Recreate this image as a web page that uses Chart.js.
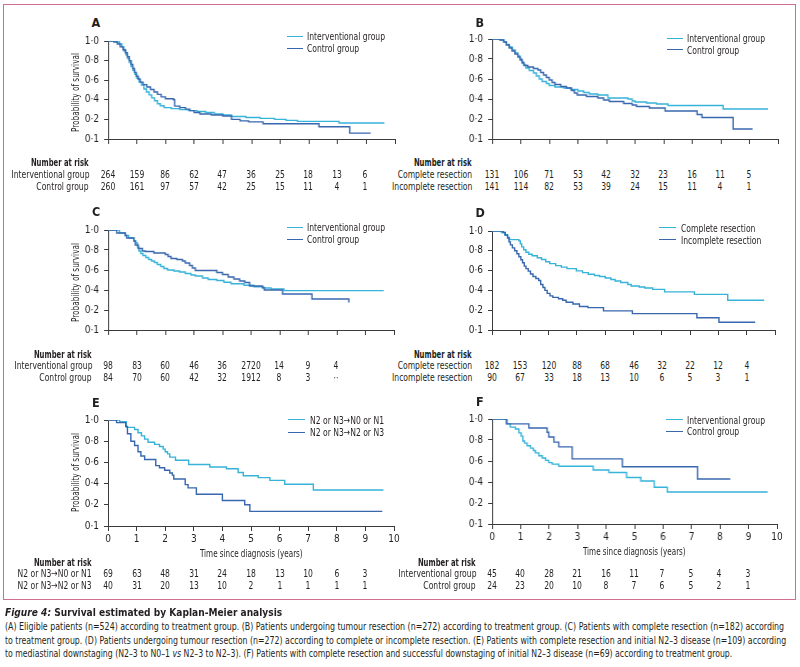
<!DOCTYPE html>
<html><head><meta charset="utf-8">
<script src="https://cdn.jsdelivr.net/npm/chart.js@4.4.1/dist/chart.umd.min.js"></script>
<style>
html,body{margin:0;padding:0;background:#fff;}
#wrap{position:relative;width:800px;height:667px;overflow:hidden;background:#fff;color:#231f20;}
#frame{position:absolute;left:3px;top:4px;width:791px;height:594px;border:1.3px solid #cf6f8b;}
.t{position:absolute;white-space:nowrap;}
canvas{position:absolute;}
</style></head><body>
<div id="wrap"><div id="frame"></div></div>
<script>
// ---------------- DATA ----------------
const yearTicks = [0,1,2,3,4,5,6,7,8,9,10];
const riskYears = [0,1,2,3,4,5,6,7,8,9];

// A: eligible patients
const aInterventional = [[0,1],[0.3,0.99],[0.4,0.97],[0.48,0.94],[0.55,0.90],[0.62,0.86],[0.68,0.82],[0.74,0.78],[0.8,0.74],[0.86,0.70],[0.93,0.66],[1.0,0.62],[1.08,0.58],[1.16,0.55],[1.25,0.51],[1.34,0.48],[1.43,0.45],[1.52,0.42],[1.62,0.39],[1.72,0.36],[1.82,0.34],[1.95,0.32],[2.2,0.31],[2.5,0.30],[2.8,0.29],[3.1,0.28],[3.4,0.27],[3.7,0.255],[4.0,0.245],[4.3,0.23],[4.8,0.22],[5.3,0.21],[5.8,0.20],[6.2,0.19],[6.6,0.18],[8.05,0.163],[9.63,0.163]];
const aControl = [[0,1],[0.2,0.99],[0.32,0.97],[0.42,0.94],[0.52,0.91],[0.6,0.88],[0.67,0.84],[0.74,0.80],[0.8,0.76],[0.86,0.72],[0.92,0.68],[0.98,0.64],[1.05,0.61],[1.12,0.58],[1.22,0.555],[1.35,0.53],[1.48,0.505],[1.6,0.48],[1.72,0.455],[1.85,0.43],[2.0,0.41],[2.28,0.40],[2.32,0.335],[2.5,0.32],[2.7,0.305],[2.85,0.29],[3.0,0.27],[3.2,0.255],[3.6,0.245],[4.0,0.235],[4.3,0.20],[4.6,0.185],[4.9,0.175],[5.4,0.155],[7.35,0.125],[8.42,0.06],[9.15,0.06]];
const aRiskInterventional = ['264','159','86','62','47','36','25','18','13','6'];
const aRiskControl = ['260','161','97','57','42','25','15','11','4','1'];

// B: tumour resection by treatment group
const bInterventional = [[0,1],[0.33,0.99],[0.42,0.97],[0.5,0.945],[0.6,0.92],[0.7,0.89],[0.8,0.86],[0.9,0.83],[0.97,0.80],[1.04,0.77],[1.1,0.74],[1.18,0.71],[1.3,0.685],[1.45,0.66],[1.55,0.63],[1.65,0.60],[1.75,0.575],[1.9,0.555],[2.0,0.535],[2.2,0.52],[2.5,0.51],[2.75,0.495],[3.0,0.48],[3.2,0.465],[3.4,0.45],[3.7,0.44],[4.05,0.41],[4.75,0.40],[4.9,0.38],[5.0,0.37],[5.4,0.36],[5.75,0.35],[6.15,0.335],[8.08,0.30],[9.65,0.30]];
const bControl = [[0,1],[0.27,0.99],[0.4,0.97],[0.5,0.94],[0.6,0.91],[0.7,0.88],[0.8,0.85],[0.9,0.82],[0.98,0.79],[1.05,0.76],[1.12,0.735],[1.25,0.72],[1.45,0.705],[1.6,0.69],[1.7,0.665],[1.8,0.64],[1.9,0.615],[2.0,0.59],[2.1,0.565],[2.2,0.545],[2.4,0.525],[2.6,0.51],[2.78,0.485],[2.88,0.46],[2.98,0.44],[3.3,0.425],[3.7,0.41],[3.9,0.39],[4.1,0.375],[4.6,0.355],[4.9,0.34],[5.05,0.325],[5.5,0.31],[6.05,0.28],[7.17,0.245],[7.34,0.215],[8.43,0.10],[9.11,0.10]];
const bRiskComplete = ['131','106','71','53','42','32','23','16','11','5'];
const bRiskIncomplete = ['141','114','82','53','39','24','15','11','4','1'];

// C: complete resection by treatment group
const cInterventional = [[0,1],[0.4,0.97],[0.6,0.945],[0.72,0.92],[0.9,0.89],[0.97,0.87],[1.03,0.83],[1.08,0.79],[1.14,0.765],[1.22,0.745],[1.32,0.725],[1.42,0.705],[1.52,0.69],[1.62,0.675],[1.72,0.655],[1.84,0.635],[1.95,0.615],[2.08,0.60],[2.3,0.59],[2.5,0.58],[2.7,0.565],[2.9,0.55],[3.05,0.54],[3.3,0.52],[3.5,0.505],[3.8,0.495],[4.05,0.478],[4.3,0.463],[4.75,0.447],[5.1,0.432],[5.4,0.42],[5.7,0.41],[6.15,0.394],[9.64,0.394]];
const cControl = [[0,1],[0.3,0.97],[0.6,0.945],[0.65,0.92],[0.9,0.89],[0.95,0.85],[1.05,0.815],[1.2,0.79],[1.3,0.785],[1.6,0.77],[2.0,0.755],[2.1,0.735],[2.2,0.715],[2.4,0.705],[2.6,0.69],[2.7,0.67],[2.85,0.645],[2.95,0.62],[3.05,0.595],[3.8,0.575],[4.0,0.555],[4.2,0.53],[4.4,0.51],[4.6,0.49],[4.78,0.475],[4.95,0.44],[5.4,0.425],[5.46,0.40],[6.1,0.36],[7.13,0.31],[8.42,0.274]];
const cRiskInterventional = ['98','83','60','46','36','2720','14','9','4',''];
const cRiskControl = ['84','70','60','42','32','1912','8','3','··',''];

// D: complete vs incomplete resection
const dComplete = [[0,1],[0.33,0.985],[0.45,0.96],[0.55,0.935],[0.62,0.913],[0.95,0.90],[1.0,0.87],[1.05,0.84],[1.12,0.81],[1.2,0.785],[1.3,0.765],[1.42,0.75],[1.6,0.73],[1.75,0.712],[1.9,0.69],[2.04,0.67],[2.25,0.65],[2.45,0.635],[2.65,0.62],[2.98,0.597],[3.2,0.58],[3.4,0.563],[3.62,0.55],[3.8,0.54],[4.0,0.525],[4.2,0.51],[4.35,0.495],[4.55,0.48],[4.8,0.46],[4.92,0.445],[5.2,0.435],[5.4,0.425],[5.68,0.41],[6.1,0.385],[7.15,0.36],[8.33,0.30],[9.62,0.30]];
const dIncomplete = [[0,1],[0.4,0.985],[0.47,0.96],[0.55,0.93],[0.6,0.89],[0.65,0.86],[0.72,0.83],[0.8,0.80],[0.88,0.77],[0.95,0.74],[1.02,0.71],[1.08,0.68],[1.14,0.645],[1.2,0.62],[1.28,0.595],[1.36,0.565],[1.45,0.54],[1.55,0.52],[1.65,0.50],[1.72,0.46],[1.8,0.43],[1.87,0.40],[1.95,0.37],[2.05,0.345],[2.15,0.33],[2.35,0.315],[2.5,0.30],[2.62,0.28],[2.86,0.263],[3.09,0.238],[3.39,0.226],[3.94,0.193],[4.96,0.165],[7.24,0.124],[8.02,0.078],[9.3,0.078]];
const dRiskComplete = ['182','153','120','88','68','46','32','22','12','4'];
const dRiskIncomplete = ['90','67','33','18','13','10','6','5','3','1'];

// E: mediastinal downstaging
const eDownstaged = [[0,1],[0.41,0.985],[0.64,0.93],[0.93,0.91],[1.05,0.88],[1.17,0.85],[1.28,0.82],[1.4,0.79],[1.63,0.77],[1.8,0.75],[1.93,0.725],[2.0,0.70],[2.08,0.68],[2.16,0.65],[2.36,0.62],[2.82,0.58],[3.56,0.557],[4.14,0.54],[4.55,0.505],[4.73,0.474],[5.25,0.456],[5.66,0.43],[6.18,0.394],[7.18,0.34],[9.63,0.34]];
const eNotDownstaged = [[0,1],[0.3,0.975],[0.62,0.94],[0.68,0.87],[0.8,0.80],[0.93,0.76],[1.05,0.70],[1.15,0.66],[1.28,0.627],[1.67,0.57],[1.8,0.55],[1.98,0.526],[2.16,0.50],[2.25,0.48],[2.3,0.443],[2.7,0.39],[2.8,0.36],[3.09,0.30],[4.0,0.24],[4.78,0.20],[4.96,0.138],[9.59,0.138]];
const eRiskDownstaged = ['69','63','48','31','24','18','13','10','6','3'];
const eRiskNotDownstaged = ['40','31','20','13','10','2','1','1','1','1'];

// F: successful downstaging by treatment group
const fInterventional = [[0,1],[0.53,0.954],[0.64,0.923],[0.82,0.905],[0.94,0.868],[1.02,0.837],[1.08,0.79],[1.14,0.77],[1.23,0.745],[1.35,0.723],[1.45,0.70],[1.52,0.677],[1.64,0.65],[1.76,0.628],[1.88,0.606],[1.99,0.585],[2.11,0.57],[2.34,0.55],[3.55,0.514],[4.1,0.49],[4.72,0.443],[5.22,0.41],[5.69,0.35],[6.15,0.305],[9.67,0.305]];
const fControl = [[0,1],[0.5,0.954],[1.29,0.914],[1.93,0.874],[1.99,0.828],[2.17,0.78],[2.34,0.735],[2.81,0.62],[4.57,0.545],[7.21,0.428],[8.36,0.428]];
const fRiskInterventional = ['45','40','28','21','16','11','7','5','4','3'];
const fRiskControl = ['24','23','20','10','8','7','6','5','2','1'];

const labInterventional = 'Interventional group';
const labControl = 'Control group';
const labComplete = 'Complete resection';
const labIncomplete = 'Incomplete resection';
const labDown = 'N2 or N3\u2192N0 or N1';
const labNotDown = 'N2 or N3\u2192N2 or N3';

// ---------------- STYLE ----------------
const CYAN = '#37b3d9';
const DARK = '#3867ae';
const INK = '#231f20';
const AXIS = '#3b3b3b';

function fontAvailable(f){
  const c=document.createElement('canvas').getContext('2d');
  const s='Interventional group 0123456789';
  c.font='20px monospace'; const a=c.measureText(s).width;
  c.font='20px "'+f+'", monospace'; const b=c.measureText(s).width;
  return Math.abs(a-b)>0.5;
}
const FAMILY = ['Liberation Sans Narrow','DejaVu Sans Condensed','Roboto Condensed','Liberation Sans','Roboto'].find(fontAvailable) || 'sans-serif';
const FONT = '"'+FAMILY+'", "Liberation Sans", Arial, sans-serif';
const mctx = document.createElement('canvas').getContext('2d');
function measure(s, font){ mctx.font = font; return mctx.measureText(s).width; }
const FS = 10.5;
const KX = Math.max(0.6, Math.min(1.2, 78 / measure('Interventional group', FS+'px '+FONT)));

const wrap = document.getElementById('wrap');

function txt(html, x, y, o){
  o = o || {};
  const d = document.createElement('div');
  d.className='t';
  d.innerHTML = html;
  const fs = o.fs || FS;
  const lh = Math.round(fs*1.2);
  d.style.fontFamily = FONT;
  d.style.fontSize = fs+'px';
  d.style.fontWeight = o.weight || 'normal';
  if(o.italic) d.style.fontStyle='italic';
  d.style.lineHeight = lh+'px';
  d.style.color = o.color || INK;
  d.style.top = (y - lh/2)+'px';
  d.style.left = '0px';
  wrap.appendChild(d);
  const w = d.offsetWidth;
  let k = o.k != null ? o.k : KX;
  if(o.fitW) k = o.fitW / w;
  const al = o.align || 'left';
  let left = x, origin='0% 50%';
  if(al==='right'){ left = x - w; origin='100% 50%'; }
  else if(al==='center'){ left = x - w/2; origin='50% 50%'; }
  d.style.left = left+'px';
  d.style.transformOrigin = origin;
  d.style.transform = (o.rotate ? 'rotate('+o.rotate+'deg) ' : '') + 'scaleX('+k+')';
  return d;
}

function legendRow(lx, tx, y, color, label){
  const l = document.createElement('div');
  l.style.position='absolute'; l.style.left=Math.round(lx)+'px'; l.style.top=Math.round(y-0.7)+'px';
  l.style.width=Math.round(tx-lx-4.3)+'px'; l.style.height='1.4px'; l.style.background=color;
  wrap.appendChild(l);
  txt(label, tx, y, {align:'left'});
}

const tickFont = {family: FONT, size: 10};

function buildPanel(p){
  const Wy = 40, padTop = 8, padRight = 10;
  const xH = p.xLabels ? 22 : 6;
  const L = p.axisX - Wy, T = p.top - padTop;
  const W = Wy + (p.right - p.axisX) + padRight;
  const H = padTop + (p.bottom - p.top) + xH;
  const cv = document.createElement('canvas');
  cv.width = W; cv.height = H;
  cv.style.left = L+'px'; cv.style.top = T+'px';
  cv.style.width = W+'px'; cv.style.height = H+'px';
  wrap.appendChild(cv);
  const datasets = p.series.map(s => ({
    label: s.label,
    data: s.data.map(([x,y]) => ({x, y})),
    borderColor: s.color, backgroundColor: s.color,
    borderWidth: 1.4, stepped: 'before', pointRadius: 0, fill: false, tension: 0
  }));
  const chart = new Chart(cv.getContext('2d'), {
    type: 'line',
    data: {datasets},
    options: {
      responsive: false, animation: false, devicePixelRatio: 1,
      layout: {padding: {top: padTop, right: padRight, left: 0, bottom: 0}},
      plugins: {legend: {display: false}, tooltip: {enabled: false}, title:{display:false}},
      scales: {
        x: {
          type: 'linear', min: 0, max: 10,
          afterFit: s => { s.height = xH; },
          afterBuildTicks: s => { s.ticks = yearTicks.map(v => ({value: v})); },
          ticks: {display: !!p.xLabels, font: tickFont, color: INK, padding: 2, maxRotation: 0, autoSkip: false},
          grid: {drawOnChartArea: false, drawTicks: true, tickLength: 5, color: AXIS, lineWidth: 1},
          border: {display: true, color: AXIS, width: 1}
        },
        y: {
          min: 0, max: 1,
          afterFit: s => { s.width = Wy; },
          ticks: {stepSize: 0.2, font: tickFont, color: INK, padding: 5,
            callback: v => { const r = Math.round(v*10)/10; return r === 0 ? '0\u00b71' : r.toFixed(1).replace('.', '\u00b7'); }},
          grid: {drawOnChartArea: false, drawTicks: true, tickLength: 4, color: AXIS, lineWidth: 1},
          border: {display: true, color: AXIS, width: 1}
        }
      }
    }
  });
  const xs = chart.scales.x;
  txt(p.letter, p.letterX, p.letterY, {align:'center', fs: 12.5, weight: '600', k: 1});
  if(p.yTitle){
    txt('Probability of survival', 75, (p.top+p.bottom)/2 + 1.4, {align:'center', fs: 10.5, rotate: -90, fitW: 79});
  }
  if(p.xLabels){
    txt('Time since diagnosis (years)', (p.axisX+p.right)/2, p.bottom + 27.6, {align:'center', fs: 10.5, fitW: 103});
  }
  legendRow(p.leg.lx, p.leg.tx, p.leg.y1, p.series[p.leg.first].color, p.series[p.leg.first].label);
  legendRow(p.leg.lx, p.leg.tx, p.leg.y2, p.series[1-p.leg.first].color, p.series[1-p.leg.first].label);
  txt('Number at risk', p.risk.rx, p.risk.y0, {align:'right', weight:'bold', fitW: 58});
  p.risk.rows.forEach((row, ri) => {
    const y = p.risk.y0 + 11.65*(ri+1);
    txt(row.label, p.risk.rx, y, {align:'right'});
    riskYears.forEach((yr, i) => {
      if(row.values[i] === '') return;
      txt(row.values[i], L + xs.getPixelForValue(yr), y, {align:'center'});
    });
  });
  return chart;
}

buildPanel({letter:'A', letterX:96, letterY:22, axisX:108, right:394.5, top:38, bottom:144, yTitle:true,
  series:[{label:labControl, data:aControl, color:DARK},{label:labInterventional, data:aInterventional, color:CYAN}],
  leg:{lx:286.7, tx:307.3, y1:36.7, y2:48.7, first:1},
  risk:{rx:89, y0:162.7, rows:[{label:labInterventional, values:aRiskInterventional},{label:labControl, values:aRiskControl}]}});

buildPanel({letter:'B', letterX:480, letterY:22, axisX:492, right:777.5, top:36, bottom:144,
  series:[{label:labControl, data:bControl, color:DARK},{label:labInterventional, data:bInterventional, color:CYAN}],
  leg:{lx:666.7, tx:687.3, y1:38.3, y2:50, first:1},
  risk:{rx:471.7, y0:162.7, rows:[{label:labComplete, values:bRiskComplete},{label:labIncomplete, values:bRiskIncomplete}]}});

buildPanel({letter:'C', letterX:96, letterY:211.7, axisX:108, right:393.5, top:227, bottom:335, yTitle:true,
  series:[{label:labControl, data:cControl, color:DARK},{label:labInterventional, data:cInterventional, color:CYAN}],
  leg:{lx:286.7, tx:307.3, y1:227.3, y2:239.3, first:1},
  risk:{rx:91.7, y0:354, rows:[{label:labInterventional, values:cRiskInterventional},{label:labControl, values:cRiskControl}]}});

buildPanel({letter:'D', letterX:480, letterY:212, axisX:492, right:775, top:227.5, bottom:335,
  series:[{label:labIncomplete, data:dIncomplete, color:DARK},{label:labComplete, data:dComplete, color:CYAN}],
  leg:{lx:659.3, tx:680.7, y1:228, y2:240, first:1},
  risk:{rx:471.7, y0:354, rows:[{label:labComplete, values:dRiskComplete},{label:labIncomplete, values:dRiskIncomplete}]}});

buildPanel({letter:'E', letterX:96, letterY:402.7, axisX:108, right:394, top:416.7, bottom:525.7, yTitle:true, xLabels:true,
  series:[{label:labNotDown, data:eNotDownstaged, color:DARK},{label:labDown, data:eDownstaged, color:CYAN}],
  leg:{lx:288.3, tx:310, y1:420, y2:432.3, first:1},
  risk:{rx:91.7, y0:562.3, rows:[{label:labDown, values:eRiskDownstaged},{label:labNotDown, values:eRiskNotDownstaged}]}});

buildPanel({letter:'F', letterX:480, letterY:401.7, axisX:492, right:776.7, top:415.7, bottom:524, xLabels:true,
  series:[{label:labControl, data:fControl, color:DARK},{label:labInterventional, data:fInterventional, color:CYAN}],
  leg:{lx:665.7, tx:687.3, y1:420, y2:431.7, first:1},
  risk:{rx:476, y0:562.3, rows:[{label:labInterventional, values:fRiskInterventional},{label:labControl, values:fRiskControl}]}});

// ---------------- CAPTION ----------------
const captionTitle = '<i>Figure 4:</i> Survival estimated by Kaplan-Meier analysis';
const captionLines = [
  '(A) Eligible patients (n=524) according to treatment group. (B) Patients undergoing tumour resection (n=272) according to treatment group. (C) Patients with complete resection (n=182) according',
  'to treatment group. (D) Patients undergoing tumour resection (n=272) according to complete or incomplete resection. (E) Patients with complete resection and initial N2\u20133 disease (n=109) according',
  'to mediastinal downstaging (N2\u20133 to N0\u20131 <i>vs</i> N2\u20133 to N2\u20133). (F) Patients with complete resection and successful downstaging of initial N2\u20133 disease (n=69) according to treatment group.'
];
txt(captionTitle, 5, 612, {fs: 11, weight:'600', fitW: 277});
const capW = [779, 781, 727];
captionLines.forEach((s, i) => txt(s, 5, 626.5 + 13.7*i, {fs: 11, fitW: capW[i]}));
</script>
</body></html>
